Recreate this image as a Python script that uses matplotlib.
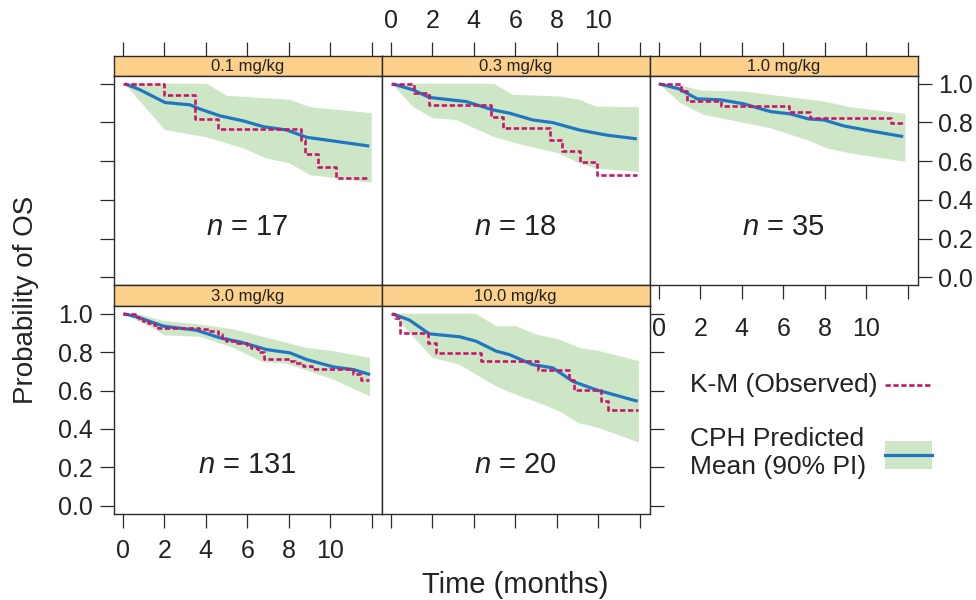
import matplotlib
matplotlib.use('Agg')
import matplotlib.pyplot as plt
from matplotlib.patches import Rectangle

plt.rcParams['font.family'] = ['Liberation Sans', 'DejaVu Sans']
plt.rcParams['mathtext.fontset'] = 'custom'
plt.rcParams['mathtext.it'] = 'Liberation Sans:italic'
plt.rcParams['mathtext.rm'] = 'Liberation Sans'

# ---------------- data ----------------
doses = ['0.1 mg/kg', '0.3 mg/kg', '1.0 mg/kg', '3.0 mg/kg', '10.0 mg/kg']
n_patients = [17, 18, 35, 131, 20]

# Kaplan-Meier (observed) step curves
km_t_01 = [0, 2.0, 3.5, 4.6, 8.6, 8.8, 9.4, 10.3, 11.75]
km_s_01 = [1.0, 0.943, 0.82, 0.766, 0.709, 0.637, 0.571, 0.514, 0.514]
km_t_03 = [0, 1.14, 1.83, 4.84, 5.43, 7.68, 8.26, 9.13, 9.93, 11.86]
km_s_03 = [1.0, 0.952, 0.891, 0.830, 0.770, 0.709, 0.652, 0.594, 0.528, 0.528]
km_t_10 = [0, 1.08, 1.34, 3.01, 6.27, 7.27, 11.2, 11.89]
km_s_10 = [1.0, 0.960, 0.912, 0.886, 0.856, 0.825, 0.796, 0.796]
km_t_30 = [0, 0.6, 0.8, 1.0, 1.2, 1.5, 1.7, 3.7, 4.2, 4.6, 4.8, 5.0, 5.5, 6.0,
           6.2, 6.5, 6.8, 8.1, 8.3, 8.7, 9.1, 11.1, 11.5, 11.85]
km_s_30 = [1.0, 0.985, 0.97, 0.962, 0.95, 0.94, 0.928, 0.921, 0.909, 0.895, 0.874,
           0.857, 0.848, 0.836, 0.82, 0.80, 0.766, 0.755, 0.745, 0.73, 0.712,
           0.685, 0.657, 0.657]
km_t_100 = [0, 0.2, 0.45, 1.8, 2.2, 4.35, 7.1, 8.6, 8.85, 10.15, 10.45, 11.9]
km_s_100 = [1.0, 0.979, 0.90, 0.848, 0.796, 0.753, 0.709, 0.657, 0.601, 0.544, 0.50, 0.50]

# CPH predicted mean
cph_t_01 = [0.1, 0.83, 2.04, 3.24, 3.73, 4.69, 5.81, 6.78, 7.90, 8.87, 9.83, 10.95, 11.88]
cph_m_01 = [1.0, 0.969, 0.903, 0.891, 0.869, 0.834, 0.808, 0.778, 0.761, 0.723, 0.709, 0.692, 0.678]
cph_t_03 = [0.07, 1.06, 1.87, 3.63, 4.92, 5.72, 6.84, 7.81, 9.09, 10.38, 11.86]
cph_m_03 = [1.0, 0.969, 0.929, 0.908, 0.865, 0.848, 0.813, 0.799, 0.761, 0.735, 0.715]
cph_t_10 = [0, 0.97, 1.85, 2.98, 4.10, 5.39, 6.35, 7.23, 7.96, 8.92, 10.21, 11.78]
cph_m_10 = [1.0, 0.974, 0.922, 0.917, 0.896, 0.856, 0.844, 0.818, 0.813, 0.782, 0.756, 0.727]
cph_t_30 = [0.03, 0.67, 1.96, 3.56, 4.69, 5.65, 6.94, 8.06, 8.87, 10.15, 11.12, 11.92]
cph_m_30 = [1.0, 0.984, 0.935, 0.914, 0.874, 0.853, 0.813, 0.796, 0.761, 0.723, 0.709, 0.683]
cph_t_100 = [0.07, 0.90, 1.86, 3.31, 4.11, 5.08, 5.72, 6.84, 7.81, 8.77, 9.90, 11.90]
cph_m_100 = [1.0, 0.967, 0.895, 0.880, 0.857, 0.805, 0.787, 0.735, 0.718, 0.648, 0.604, 0.544]

# CPH 90% prediction interval (upper / lower edges)
pi_up_t_01 = [0.1, 4.05, 5.01, 8.06, 9.03, 12.0]
pi_up_01 = [1.0, 1.0, 0.938, 0.917, 0.879, 0.848]
pi_lo_t_01 = [0.1, 2.04, 4.05, 5.81, 6.94, 8.06, 9.03, 12.0]
pi_lo_01 = [1.0, 0.761, 0.723, 0.666, 0.614, 0.588, 0.528, 0.488]
pi_up_t_03 = [0.07, 4.98, 5.88, 8.13, 9.09, 9.90, 11.96]
pi_up_03 = [1.0, 1.0, 0.943, 0.934, 0.917, 0.882, 0.879]
pi_lo_t_03 = [0.07, 1.06, 2.02, 3.15, 4.92, 6.36, 8.13, 9.09, 9.90, 11.96]
pi_lo_03 = [1.0, 0.882, 0.822, 0.813, 0.727, 0.683, 0.640, 0.588, 0.562, 0.545]
pi_up_t_10 = [0, 1.13, 2.01, 4.10, 7.96, 9.24, 11.89]
pi_up_10 = [1.0, 0.990, 0.965, 0.960, 0.908, 0.879, 0.844]
pi_lo_t_10 = [0, 1.05, 2.17, 2.98, 5.39, 7.15, 8.12, 9.24, 11.89]
pi_lo_10 = [1.0, 0.900, 0.839, 0.822, 0.770, 0.709, 0.666, 0.640, 0.597]
pi_up_t_30 = [0.03, 0.84, 1.96, 3.72, 5.33, 7.26, 8.87, 10.15, 11.92]
pi_up_30 = [1.0, 0.996, 0.962, 0.944, 0.918, 0.866, 0.822, 0.805, 0.770]
pi_lo_t_30 = [0.03, 1.27, 2.04, 3.72, 5.33, 6.78, 7.90, 10.15, 11.92]
pi_lo_30 = [1.0, 0.935, 0.887, 0.880, 0.822, 0.747, 0.740, 0.657, 0.570]
pi_up_t_100 = [0.07, 4.11, 5.08, 6.04, 7.00, 8.13, 9.09, 10.06, 11.96]
pi_up_100 = [1.0, 1.0, 0.935, 0.935, 0.892, 0.866, 0.822, 0.805, 0.753]
pi_lo_t_100 = [0.07, 2.02, 3.31, 5.08, 6.04, 7.16, 8.13, 9.09, 10.06, 11.96]
pi_lo_100 = [1.0, 0.770, 0.735, 0.622, 0.578, 0.535, 0.491, 0.430, 0.404, 0.329]

x_ticks = [0, 2, 4, 6, 8, 10, 12]
x_tick_labels = ['0', '2', '4', '6', '8', '10', '']
y_ticks = [0.0, 0.2, 0.4, 0.6, 0.8, 1.0]
y_tick_labels = ['0.0', '0.2', '0.4', '0.6', '0.8', '1.0']

panels = [
    (km_t_01, km_s_01, cph_t_01, cph_m_01, pi_up_t_01, pi_up_01, pi_lo_t_01, pi_lo_01),
    (km_t_03, km_s_03, cph_t_03, cph_m_03, pi_up_t_03, pi_up_03, pi_lo_t_03, pi_lo_03),
    (km_t_10, km_s_10, cph_t_10, cph_m_10, pi_up_t_10, pi_up_10, pi_lo_t_10, pi_lo_10),
    (km_t_30, km_s_30, cph_t_30, cph_m_30, pi_up_t_30, pi_up_30, pi_lo_t_30, pi_lo_30),
    (km_t_100, km_s_100, cph_t_100, cph_m_100, pi_up_t_100, pi_up_100, pi_lo_t_100, pi_lo_100),
]

# ---------------- style ----------------
FRAME = '#2a2a2a'
KM_C = '#C8176A'
CPH_C = '#1F77C4'
BAND_C = '#CDE6C5'
STRIP_C = '#FDD18B'
TICK_FS = 18
XLIM = (-0.443, 12.47)
YLIM = (-0.04, 1.04)

W, H = 976, 600
fig = plt.figure(figsize=(W / 100, H / 100), dpi=100)


def add_px(l, t, w, h):
    return fig.add_axes([l / W, 1 - (t + h) / H, w / W, h / H])


col_left = [113.5, 381.5, 649.5]
pw = 268
strip_top = [55.5, 285.0]
strip_h = [20.5, 21.0]
panel_h = [209.0, 207.5]
n_ypos = [0.26, 0.21]


def style_frame(a):
    for sp in a.spines.values():
        sp.set_color(FRAME)
        sp.set_linewidth(1.0)


for i, (kt, ks, ct, cm, ut, uv, lt, lv) in enumerate(panels):
    r, c = divmod(i, 3)
    st = strip_top[r]
    sax = add_px(col_left[c], st, pw, strip_h[r])
    ax = add_px(col_left[c], st + strip_h[r], pw, panel_h[r])

    # strip
    sax.set_facecolor(STRIP_C)
    sax.set_xlim(XLIM)
    sax.set_ylim(0, 1)
    sax.set_xticks(x_ticks, x_tick_labels)
    sax.set_yticks([])
    sax.tick_params(axis='x', bottom=False, labelbottom=False,
                    top=(r == 0), labeltop=(r == 0 and c == 1),
                    direction='out', length=10, width=0.9, color=FRAME,
                    pad=6.5, labelsize=TICK_FS, labelcolor='#222222')
    sax.text(0.5, 0.45, doses[i], transform=sax.transAxes, ha='center',
             va='center', fontsize=12, color='#222222')
    style_frame(sax)

    # panel
    ax.fill(list(ut) + list(lt)[::-1], list(uv) + list(lv)[::-1],
            color=BAND_C, lw=0, zorder=1)
    ax.plot(ct, cm, color=CPH_C, lw=2.3, zorder=2, solid_capstyle='butt')
    ax.step(kt, ks, where='post', color=KM_C, lw=1.9,
            linestyle=(0, (2.0, 1.0)), zorder=3)
    ax.text(6, n_ypos[r], rf'$n$ = {n_patients[i]}', ha='center',
            va='center', fontsize=21, color='#222222')

    ax.set_xlim(XLIM)
    ax.set_ylim(YLIM)
    ax.set_xticks(x_ticks, x_tick_labels)
    ax.set_yticks(y_ticks, y_tick_labels)
    ax.tick_params(axis='x', bottom=(i in (2, 3, 4)), labelbottom=(i in (2, 3)),
                   top=False, labeltop=False, direction='out', length=10,
                   width=0.9, color=FRAME, labelsize=TICK_FS,
                   pad=(13 if i == 2 else 8), labelcolor='#222222')
    ax.tick_params(axis='y', left=(c == 0), labelleft=(i == 3),
                   right=(i in (2, 4)), labelright=(i == 2),
                   direction='out', length=10, width=0.9, color=FRAME,
                   labelsize=TICK_FS, pad=5, labelcolor='#222222')
    style_frame(ax)

# axis titles
fig.text(515.5 / W, 1 - 585 / H, 'Time (months)', ha='center', va='center',
         fontsize=21, color='#222222')
fig.text(26 / W, 1 - 300 / H, 'Probability of OS', ha='center', va='center',
         rotation=90, fontsize=20, color='#222222')

# legend
lax = add_px(665, 340, 311, 160)
lax.set_xlim(665, 976)
lax.set_ylim(500, 340)
lax.axis('off')
lax.text(690, 385, 'K-M (Observed)', va='center', ha='left', fontsize=19, color='#222222')
lax.plot([885, 932], [385, 385], color=KM_C, lw=1.9, linestyle=(0, (2.0, 1.0)))
lax.text(690, 439, 'CPH Predicted', va='center', ha='left', fontsize=19, color='#222222')
lax.text(690, 467, 'Mean (90% PI)', va='center', ha='left', fontsize=19, color='#222222')
lax.add_patch(Rectangle((885, 441), 47, 28, color=BAND_C, lw=0))
lax.plot([885, 932], [455, 455], color=CPH_C, lw=2.3)

fig.savefig('out.png', dpi=100)
